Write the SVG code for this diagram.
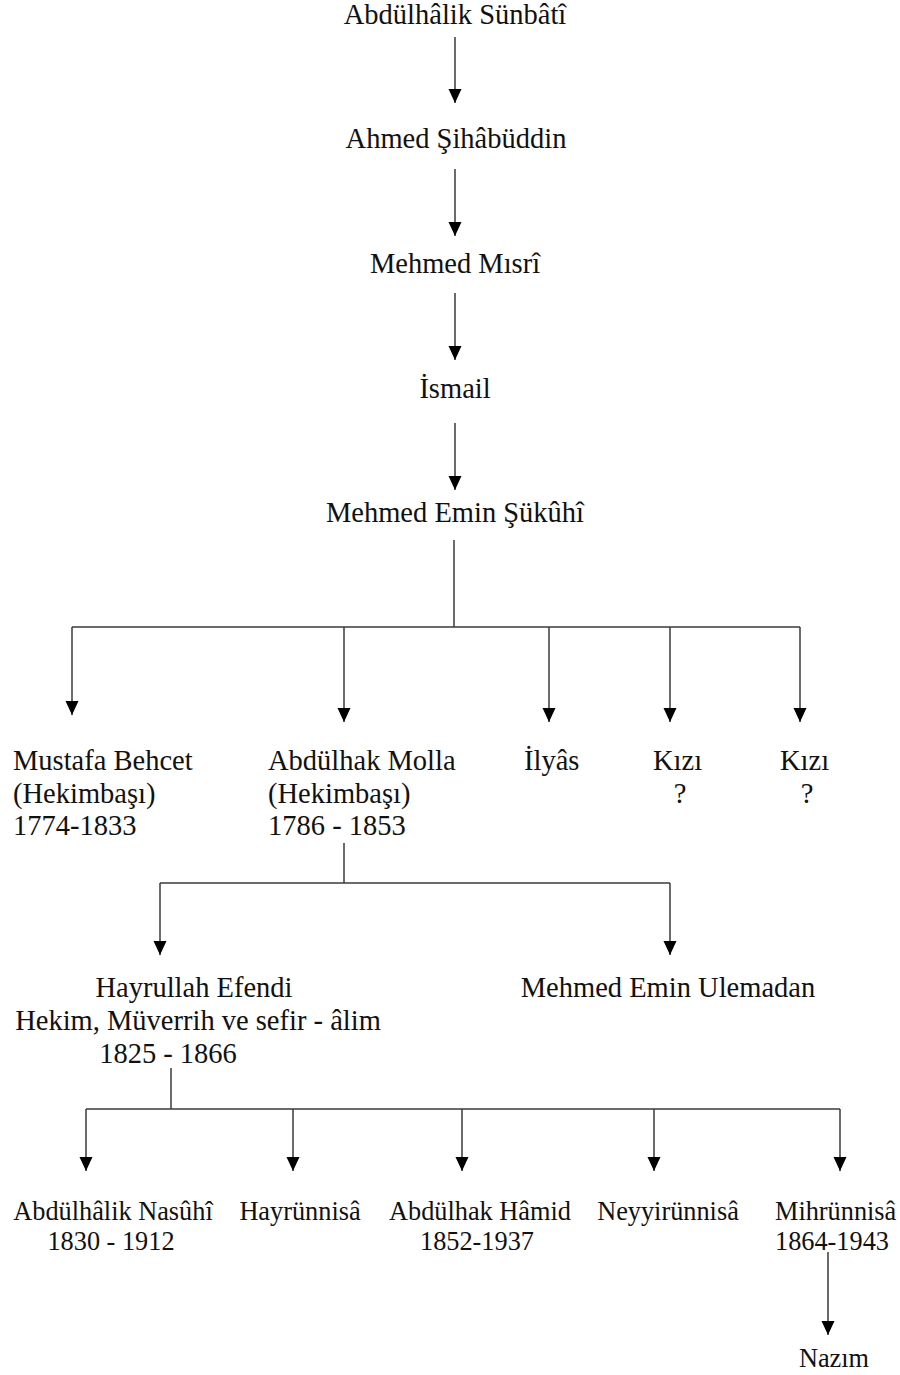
<svg xmlns="http://www.w3.org/2000/svg" width="900" height="1375" viewBox="0 0 900 1375">
<style>
text{font-family:"Liberation Serif","Times New Roman",serif;font-size:28.5px;fill:#111}
text.s{font-size:26.3px}
.c{text-anchor:middle}
.ln{stroke:#3a3a3a;stroke-width:1.5;fill:none}
.ar{stroke:#3a3a3a;stroke-width:1.5;fill:none;marker-end:url(#ah)}
</style>
<defs>
<marker id="ah" markerUnits="userSpaceOnUse" markerWidth="14" markerHeight="14" viewBox="0 0 14 14" refX="14" refY="7" orient="auto">
<path d="M0,0.5 L14,7 L0,13.5 z" fill="#000"/>
</marker>
</defs>
<rect width="900" height="1375" fill="#fff"/>
<g id="connectors">
<line class="ar" x1="455" y1="37" x2="455" y2="103"/>
<line class="ar" x1="455" y1="169" x2="455" y2="236"/>
<line class="ar" x1="455" y1="293" x2="455" y2="360"/>
<line class="ar" x1="455" y1="423" x2="455" y2="490"/>
<line class="ln" x1="454" y1="540" x2="454" y2="627"/>
<line class="ln" x1="72" y1="627" x2="800" y2="627"/>
<line class="ar" x1="72" y1="627" x2="72" y2="715"/>
<line class="ar" x1="344" y1="627" x2="344" y2="722"/>
<line class="ar" x1="549" y1="627" x2="549" y2="722"/>
<line class="ar" x1="670" y1="627" x2="670" y2="722"/>
<line class="ar" x1="800" y1="627" x2="800" y2="722"/>
<line class="ln" x1="344" y1="843" x2="344" y2="883"/>
<line class="ln" x1="160" y1="883" x2="670" y2="883"/>
<line class="ar" x1="160" y1="883" x2="160" y2="955"/>
<line class="ar" x1="670" y1="883" x2="670" y2="955"/>
<line class="ln" x1="171" y1="1068" x2="171" y2="1109"/>
<line class="ln" x1="86" y1="1109" x2="840" y2="1109"/>
<line class="ar" x1="86" y1="1109" x2="86" y2="1171"/>
<line class="ar" x1="293" y1="1109" x2="293" y2="1171"/>
<line class="ar" x1="462" y1="1109" x2="462" y2="1171"/>
<line class="ar" x1="654" y1="1109" x2="654" y2="1171"/>
<line class="ar" x1="840" y1="1109" x2="840" y2="1171"/>
<line class="ar" x1="828" y1="1252" x2="828" y2="1335"/>
</g>
<g id="n-sunbati"><text class="c" x="455" y="24">Abdülhâlik Sünbâtî</text></g>
<g id="n-sihabuddin"><text class="c" x="456" y="148">Ahmed Şihâbüddin</text></g>
<g id="n-misri"><text class="c" x="455" y="273">Mehmed Mısrî</text></g>
<g id="n-ismail"><text class="c" x="455" y="398">İsmail</text></g>
<g id="n-sukuhi"><text class="c" x="455" y="522">Mehmed Emin Şükûhî</text></g>
<g id="n-mustafa">
<text x="13" y="770">Mustafa Behcet</text>
<text x="13" y="803">(Hekimbaşı)</text>
<text x="13" y="835">1774-1833</text>
</g>
<g id="n-abdulhak-molla">
<text x="268" y="770">Abdülhak Molla</text>
<text x="268" y="803">(Hekimbaşı)</text>
<text x="268" y="835">1786 - 1853</text>
</g>
<g id="n-ilyas"><text x="524" y="770">İlyâs</text></g>
<g id="n-kizi1">
<text x="653" y="770">Kızı</text>
<text class="c" x="680" y="803">?</text>
</g>
<g id="n-kizi2">
<text x="780" y="770">Kızı</text>
<text class="c" x="807" y="803">?</text>
</g>
<g id="n-hayrullah">
<text class="c" x="194" y="997">Hayrullah Efendi</text>
<text class="c" x="198" y="1030">Hekim, Müverrih ve sefir - âlim</text>
<text class="c" x="168" y="1063">1825 - 1866</text>
</g>
<g id="n-ulemadan"><text class="c" x="668" y="997">Mehmed Emin Ulemadan</text></g>
<g id="n-nasuhi">
<text class="s c" x="113" y="1220">Abdülhâlik Nasûhî</text>
<text class="s c" x="111" y="1250">1830 - 1912</text>
</g>
<g id="n-hayrunnisa"><text class="s c" x="300" y="1220">Hayrünnisâ</text></g>
<g id="n-hamid">
<text class="s c" x="480" y="1220">Abdülhak Hâmid</text>
<text class="s c" x="477" y="1250">1852-1937</text>
</g>
<g id="n-neyyirunnisa"><text class="s c" x="668" y="1220">Neyyirünnisâ</text></g>
<g id="n-mihrunnisa">
<text class="s" x="775" y="1220">Mihrünnisâ</text>
<text class="s" x="775" y="1250">1864-1943</text>
</g>
<g id="n-nazim"><text class="s c" x="834" y="1367">Nazım</text></g>
</svg>
